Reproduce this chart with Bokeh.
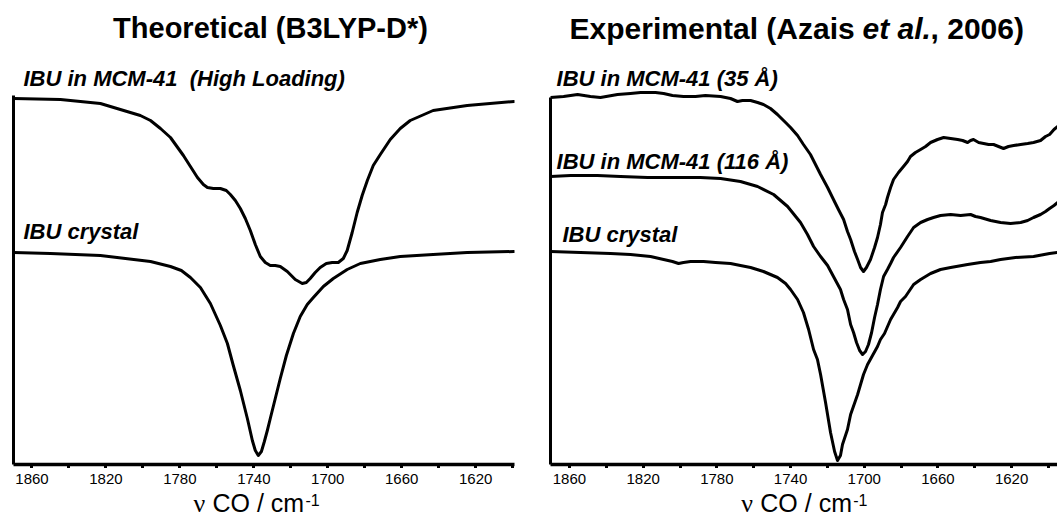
from bokeh.plotting import figure
from bokeh.models import Range1d, FixedTicker, Label
from bokeh.layouts import row, column
from bokeh.embed import file_html
from bokeh.resources import INLINE

# ---------------- data ----------------
major_ticks = [1860, 1820, 1780, 1740, 1700, 1660, 1620]
minor_ticks = [1840, 1800, 1760, 1720, 1680, 1640, 1600]

# Theoretical (B3LYP-D*) - IBU crystal
theo_crystal_wn = [1870.0, 1850.0, 1823.0, 1795.9, 1785.1, 1779.2, 1774.3, 1768.9, 1763.5, 1758.1, 1754.3,
                   1751.1, 1747.3, 1743.5, 1740.8, 1739.2, 1737.6, 1735.9, 1734.3, 1732.7, 1731.1,
                   1728.4, 1725.7, 1722.4, 1718.6, 1714.9, 1711.1, 1707.8, 1702.4, 1697.0, 1689.5,
                   1682.4, 1671.6, 1660.8, 1643.0, 1624.6, 1599.2]
theo_crystal_t = [212, 211, 209, 203, 198, 194, 187, 177, 161, 139, 121,
                  99, 74, 46, 24, 14, 9, 13, 23, 34, 46,
                  66, 86, 109, 131, 148, 160, 167, 178, 186, 195,
                  201, 205, 208, 210, 212, 213]

# Theoretical - IBU in MCM-41 (High Loading)
theo_mcm_wn = [1870.0, 1844.6, 1823.0, 1806.8, 1801.4, 1795.9, 1790.5, 1785.1, 1778.1, 1774.3,
               1770.5, 1767.3, 1765.1, 1761.9, 1758.1, 1754.9, 1752.7, 1750.0, 1747.3, 1744.6,
               1741.9, 1739.2, 1736.5, 1733.8, 1731.1, 1728.4, 1725.7, 1721.9, 1717.6, 1713.8,
               1711.6, 1709.5, 1706.8, 1704.1, 1700.8, 1697.6, 1694.3, 1691.6, 1689.5, 1686.8,
               1684.1, 1681.4, 1678.6, 1675.4, 1671.6, 1666.2, 1660.8, 1655.4, 1643.0, 1624.6,
               1599.2]
theo_mcm_t = [366, 365, 361, 352, 349, 344, 336, 327, 309, 298,
              287, 280, 277, 276, 276, 274, 270, 264, 256, 246,
              234, 220, 208, 202, 199, 199, 198, 193, 185, 181,
              182, 186, 192, 197, 201, 202, 202, 206, 214, 232,
              252, 269, 284, 299, 310, 325, 336, 344, 354, 359,
              363]

# Experimental - IBU in MCM-41 (35 A)
exp35_wn = [1870.3, 1863.2, 1855.6, 1848.6, 1843.2, 1833.9, 1826.9, 1821.4, 1813.3, 1808.9,
            1804.1, 1798.1, 1791.6, 1786.2, 1778.0, 1772.6, 1768.8, 1766.1, 1761.7, 1757.9,
            1754.7, 1750.9, 1747.1, 1742.7, 1740.0, 1736.2, 1733.0, 1729.2, 1723.7, 1719.9,
            1716.7, 1714.0, 1711.2, 1709.1, 1707.4, 1705.3, 1703.6, 1702.0, 1700.4, 1698.8,
            1696.6, 1694.4, 1692.8, 1691.2, 1690.1, 1688.4, 1687.4, 1685.7, 1684.1, 1681.4,
            1678.7, 1676.5, 1674.9, 1672.2, 1669.4, 1666.7, 1664.0, 1660.2, 1656.9, 1653.1,
            1649.3, 1646.6, 1643.9, 1642.3, 1640.7, 1637.9, 1635.2, 1632.5, 1629.8, 1627.1,
            1624.4, 1621.7, 1618.9, 1615.1, 1611.3, 1608.1, 1604.3, 1601.6, 1599.4, 1597.0, 1595.0]
exp35_t = [367, 368, 370, 368, 367, 370, 371, 372, 372, 371,
           369, 368, 368, 369, 368, 366, 363, 364, 364, 362,
           360, 356, 350, 342, 337, 329, 320, 310, 290, 277,
           265, 255, 245, 233, 225, 213, 205, 197, 193, 197,
           205, 217, 227, 240, 252, 260, 267, 277, 285, 292,
           298, 303, 308, 312, 315, 318, 322, 325, 327, 326,
           325, 324, 322, 324, 325, 322, 321, 320, 320, 318,
           316, 318, 319, 320, 321, 322, 324, 328, 330, 335, 338]

# Experimental - IBU in MCM-41 (116 A)
exp116_wn = [1870.3, 1859.4, 1844.8, 1832.3, 1817.6, 1799.7, 1788.9, 1778.0, 1767.2, 1757.9,
             1749.2, 1741.6, 1734.6, 1730.8, 1727.5, 1723.7, 1719.9, 1716.7, 1712.9, 1711.2,
             1709.1, 1707.4, 1705.8, 1704.2, 1702.5, 1700.9, 1699.3, 1697.7, 1696.0, 1694.4,
             1692.8, 1691.2, 1689.5, 1687.4, 1685.7, 1684.1, 1680.3, 1676.5, 1673.2, 1669.4,
             1665.6, 1662.4, 1658.6, 1653.1, 1647.7, 1642.3, 1639.6, 1636.9, 1631.4, 1626.0,
             1620.6, 1615.1, 1611.3, 1608.1, 1604.3, 1601.6, 1599.4, 1597.0, 1595.0]
exp116_t = [288, 289, 289, 288, 287, 287, 287, 286, 283, 278,
            270, 258, 242, 230, 218, 208, 199, 188, 175, 165,
            155, 140, 132, 122, 114, 110, 113, 120, 132, 147,
            160, 175, 188, 195, 201, 207, 217, 228, 237, 242,
            245, 247, 249, 250, 249, 250, 248, 247, 244, 242,
            241, 242, 244, 247, 250, 253, 256, 259, 262]

# Experimental - IBU crystal
expcr_wn = [1870.3, 1854.0, 1837.7, 1826.9, 1816.0, 1808.9, 1804.1, 1800.8, 1798.1, 1794.3,
            1787.2, 1780.7, 1772.6, 1767.2, 1761.7, 1754.7, 1747.1, 1742.7, 1740.0, 1736.2,
            1733.0, 1730.2, 1727.5, 1725.4, 1723.7, 1721.0, 1718.3, 1716.1, 1714.5, 1712.9,
            1711.8, 1709.1, 1707.4, 1703.6, 1700.4, 1698.2, 1695.5, 1692.8, 1691.2, 1689.0,
            1685.7, 1681.9, 1680.3, 1677.6, 1673.2, 1669.4, 1664.0, 1658.6, 1653.1, 1643.9,
            1636.9, 1631.4, 1626.0, 1617.9, 1608.1, 1599.4, 1595.0]
expcr_t = [213, 212, 211, 210, 208, 205, 203, 201, 202, 203,
           203, 202, 201, 199, 197, 193, 187, 181, 175, 165,
           152, 135, 115, 105, 90, 62, 32, 13, 4, 9,
           20, 35, 50, 70, 90, 100, 109, 118, 125, 131,
           145, 157, 163, 168, 180, 185, 191, 195, 197, 200,
           202, 203, 205, 207, 208, 211, 212]

left_title = "Theoretical (B3LYP-D*)"
right_title_parts = ["Experimental (Azais", "et al.", ", 2006)"]
left_labels = ["IBU in MCM-41\u00a0 (High Loading)", "IBU crystal"]
right_labels = ["IBU in MCM-41 (35 Å)", "IBU in MCM-41 (116 Å)", "IBU crystal"]
axis_title_parts = ["ν", "CO / cm", "-1"]

# ---------------- styling helpers ----------------
SANS = "Liberation Sans"
SERIF = "Liberation Serif"


def plain(p):
    p.grid.visible = False
    p.outline_line_color = None
    p.background_fill_color = "white"
    p.border_fill_color = "white"


def make_panel(width, xr, border_left, border_right, y_top):
    p = figure(width=width, height=468, x_range=xr, y_range=Range1d(0, 464), title=None,
               output_backend="svg", toolbar_location=None,
               min_border_left=border_left, min_border_right=border_right,
               min_border_top=0, min_border_bottom=4)
    plain(p)
    xa = p.xaxis[0]
    # every tick mark of the frame axis is an unlabeled minor tick;
    # the tick labels sit on the strip figure underneath
    xa.ticker = FixedTicker(ticks=[], minor_ticks=sorted(major_ticks + minor_ticks))
    xa.axis_line_width = 3.5
    xa.axis_line_color = "black"
    xa.minor_tick_out = 4
    xa.minor_tick_in = 0
    xa.minor_tick_line_width = 3
    xa.minor_tick_line_color = "black"
    xa.major_tick_out = 0
    xa.major_tick_in = 0
    xa.major_label_standoff = 0
    ya = p.yaxis[0]
    ya.ticker = FixedTicker(ticks=[])
    ya.bounds = (0, y_top)
    ya.major_tick_out = 0
    ya.major_tick_in = 0
    ya.minor_tick_out = 0
    ya.minor_tick_in = 0
    ya.major_label_standoff = 0
    ya.axis_line_width = 3
    ya.axis_line_color = "black"
    return p


def make_strip(width, xr, border_left, border_right):
    p = figure(width=width, height=51, x_range=xr, y_range=Range1d(0, 36), title=None,
               x_axis_location="above", y_axis_location=None,
               output_backend="svg", toolbar_location=None,
               min_border_left=border_left, min_border_right=border_right,
               min_border_top=15, min_border_bottom=0)
    plain(p)
    xa = p.xaxis[0]
    xa.ticker = FixedTicker(ticks=major_ticks)
    xa.axis_line_color = None
    xa.major_tick_line_color = None
    xa.minor_tick_line_color = None
    xa.major_tick_out = 0
    xa.major_tick_in = 0
    xa.minor_tick_out = 0
    xa.minor_tick_in = 0
    xa.major_label_standoff = 0
    xa.major_label_text_font = SANS
    xa.major_label_text_font_size = "15px"
    xa.major_label_text_line_height = 1.0
    xa.major_label_text_color = "black"
    return p


def curve(p, xs, ys):
    p.line(xs, ys, line_color="black", line_width=3, line_join="round", line_cap="round")


def text(p, x, y, s, size, style="bold italic", align="left", font=SANS, xoff=0):
    p.add_layout(Label(x=x, y=y, text=s, text_font=font, text_font_size=size,
                       text_font_style=style, text_color="black", text_align=align,
                       text_baseline="alphabetic", x_offset=xoff))


def axis_title(p, xc):
    text(p, xc, 16.5, axis_title_parts[0], "26px", style="normal", font=SERIF, xoff=-64)
    text(p, xc, 16.5, axis_title_parts[1], "25px", style="normal", xoff=-45)
    text(p, xc, 19.5, axis_title_parts[2], "16px", style="normal", xoff=48)


# ---------------- left panel ----------------
xr1 = Range1d(1870, 1599)
p1 = make_panel(538, xr1, 13, 24, 369)
curve(p1, theo_mcm_wn, theo_mcm_t)
curve(p1, theo_crystal_wn, theo_crystal_t)
text(p1, 1731, 436.5, left_title, "29px", style="bold", align="center")
text(p1, 1864.6, 386, left_labels[0], "22px")
text(p1, 1864.6, 233, left_labels[1], "22px")
s1 = make_strip(538, xr1, 13, 24)
axis_title(s1, 1738)

# ---------------- right panel ----------------
xr2 = Range1d(1870.3, 1595.1)
p2 = make_panel(519, xr2, 12, 0, 367)
curve(p2, exp35_wn, exp35_t)
curve(p2, exp116_wn, exp116_t)
curve(p2, expcr_wn, expcr_t)
text(p2, 1736.2, 436.5, right_title_parts[0], "30px", style="bold", xoff=-228)
text(p2, 1736.2, 436.5, right_title_parts[1], "30px", style="bold italic", xoff=65)
text(p2, 1736.2, 436.5, right_title_parts[2], "30px", style="bold", xoff=133)
text(p2, 1867.0, 386, right_labels[0], "22px")
text(p2, 1867.0, 303, right_labels[1], "22px")
text(p2, 1863.8, 230, right_labels[2], "22px")
s2 = make_strip(519, xr2, 12, 0)
axis_title(s2, 1732)

layout = column(row(p1, p2), row(s1, s2))
open("out.html", "w").write(file_html(layout, INLINE))
